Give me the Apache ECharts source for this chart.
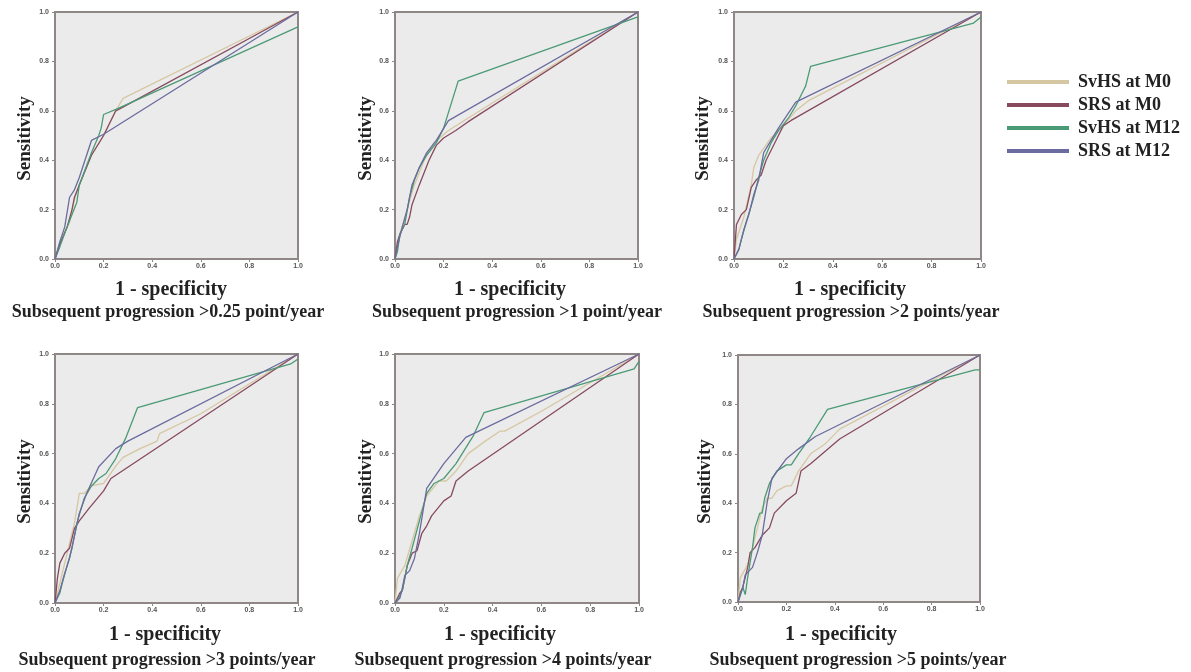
<!DOCTYPE html>
<html>
<head>
<meta charset="utf-8">
<script src="https://cdn.jsdelivr.net/npm/echarts@6/dist/echarts.min.js"></script>
<style>
    html, body {margin: 0; padding: 0; background: #ffffff;}
    #roc-panels {width: 1191px; height: 672px;}
</style>
</head>
<body>
<div id="roc-panels"></div>
<script>
// series names (legend)
const seriesNames = ['SvHS at M0', 'SRS at M0', 'SvHS at M12', 'SRS at M12'];
const seriesColors = ['#d6c7a3', '#874a5e', '#4b9a76', '#6b6b9f'];

// panel titles
const panelTitles = [
    'Subsequent progression >0.25 point/year',
    'Subsequent progression >1 point/year',
    'Subsequent progression >2 points/year',
    'Subsequent progression >3 points/year',
    'Subsequent progression >4 points/year',
    'Subsequent progression >5 points/year'
];

// axis ticks
const axisTicks = [0, 0.2, 0.4, 0.6, 0.8, 1.0];

// ROC points [1 - specificity, sensitivity]
// >0.25 point/year
const p1SvhsM0 = [[0, 0], [0.02, 0.06], [0.04, 0.11], [0.06, 0.15], [0.08, 0.24], [0.1, 0.3], [0.15, 0.42], [0.2, 0.5], [0.25, 0.6], [0.28, 0.65], [1, 1]];
const p1SrsM0 = [[0, 0], [0.02, 0.06], [0.05, 0.13], [0.07, 0.2], [0.08, 0.25], [0.1, 0.3], [0.15, 0.42], [0.2, 0.5], [0.25, 0.6], [0.27, 0.61], [1, 1]];
const p1SvhsM12 = [[0, 0], [0.02, 0.05], [0.05, 0.13], [0.07, 0.18], [0.09, 0.23], [0.1, 0.3], [0.15, 0.43], [0.18, 0.5], [0.19, 0.53], [0.2, 0.585], [0.26, 0.61], [1, 0.94]];
const p1SrsM12 = [[0, 0], [0.02, 0.07], [0.04, 0.13], [0.06, 0.25], [0.08, 0.28], [0.1, 0.33], [0.15, 0.48], [0.2, 0.505], [1, 1]];
// >1 point/year
const p2SvhsM0 = [[0, 0], [0.02, 0.1], [0.05, 0.2], [0.08, 0.3], [0.12, 0.4], [0.16, 0.47], [0.22, 0.52], [0.3, 0.57], [1, 1]];
const p2SrsM0 = [[0, 0], [0.01, 0.07], [0.02, 0.1], [0.04, 0.14], [0.05, 0.14], [0.06, 0.17], [0.07, 0.22], [0.1, 0.3], [0.14, 0.4], [0.17, 0.46], [0.2, 0.49], [0.25, 0.52], [0.3, 0.555], [1, 1]];
const p2SvhsM12 = [[0, 0], [0.01, 0.03], [0.02, 0.1], [0.04, 0.14], [0.06, 0.25], [0.08, 0.32], [0.1, 0.37], [0.13, 0.42], [0.17, 0.47], [0.2, 0.53], [0.26, 0.72], [1, 0.98]];
const p2SrsM12 = [[0, 0], [0.01, 0.05], [0.03, 0.13], [0.05, 0.2], [0.07, 0.3], [0.1, 0.37], [0.13, 0.43], [0.17, 0.48], [0.22, 0.56], [1, 1]];
// >2 points/year
const p3SvhsM0 = [[0, 0], [0.01, 0.08], [0.04, 0.17], [0.07, 0.3], [0.08, 0.37], [0.1, 0.42], [0.15, 0.49], [0.2, 0.54], [0.25, 0.6], [0.3, 0.64], [1, 1]];
const p3SrsM0 = [[0, 0], [0.01, 0.14], [0.03, 0.18], [0.05, 0.2], [0.07, 0.29], [0.09, 0.32], [0.11, 0.34], [0.13, 0.4], [0.18, 0.5], [0.2, 0.54], [0.23, 0.56], [1, 1]];
const p3SvhsM12 = [[0, 0], [0.02, 0.04], [0.03, 0.08], [0.05, 0.15], [0.08, 0.25], [0.1, 0.33], [0.12, 0.4], [0.15, 0.47], [0.18, 0.52], [0.22, 0.57], [0.25, 0.62], [0.28, 0.68], [0.29, 0.7], [0.31, 0.78], [0.97, 0.955], [1, 0.98]];
const p3SrsM12 = [[0, 0], [0.02, 0.04], [0.04, 0.12], [0.06, 0.18], [0.08, 0.26], [0.1, 0.32], [0.12, 0.43], [0.15, 0.48], [0.18, 0.53], [0.2, 0.56], [0.25, 0.635], [1, 1]];
// >3 points/year
const p4SvhsM0 = [[0, 0], [0.02, 0.08], [0.05, 0.2], [0.08, 0.32], [0.1, 0.44], [0.12, 0.44], [0.15, 0.47], [0.2, 0.48], [0.25, 0.55], [0.28, 0.585], [0.35, 0.62], [0.42, 0.65], [0.43, 0.68], [0.6, 0.76], [1, 1]];
const p4SrsM0 = [[0, 0], [0.01, 0.1], [0.02, 0.16], [0.04, 0.2], [0.06, 0.22], [0.08, 0.3], [0.1, 0.33], [0.14, 0.38], [0.2, 0.45], [0.23, 0.5], [1, 1]];
const p4SvhsM12 = [[0, 0], [0.02, 0.04], [0.03, 0.08], [0.05, 0.15], [0.07, 0.22], [0.09, 0.32], [0.12, 0.42], [0.15, 0.47], [0.18, 0.5], [0.21, 0.52], [0.25, 0.58], [0.29, 0.66], [0.34, 0.785], [0.97, 0.96], [1, 0.98]];
const p4SrsM12 = [[0, 0], [0.02, 0.05], [0.04, 0.12], [0.06, 0.18], [0.08, 0.27], [0.1, 0.36], [0.13, 0.44], [0.18, 0.547], [0.25, 0.62], [0.3, 0.65], [1, 1]];
// >4 points/year
const p5SvhsM0 = [[0, 0], [0.01, 0.1], [0.04, 0.15], [0.07, 0.25], [0.1, 0.35], [0.13, 0.43], [0.18, 0.49], [0.21, 0.49], [0.25, 0.53], [0.3, 0.6], [0.37, 0.65], [0.43, 0.69], [0.45, 0.69], [0.6, 0.77], [1, 1]];
const p5SrsM0 = [[0, 0], [0.02, 0.04], [0.03, 0.05], [0.05, 0.15], [0.07, 0.2], [0.09, 0.21], [0.11, 0.28], [0.13, 0.31], [0.15, 0.35], [0.2, 0.41], [0.23, 0.43], [0.25, 0.49], [0.3, 0.53], [1, 1]];
const p5SvhsM12 = [[0, 0], [0.01, 0.01], [0.03, 0.05], [0.05, 0.15], [0.07, 0.22], [0.1, 0.33], [0.13, 0.44], [0.16, 0.48], [0.2, 0.5], [0.25, 0.56], [0.32, 0.67], [0.365, 0.765], [0.98, 0.94], [1, 0.97]];
const p5SrsM12 = [[0, 0], [0.02, 0.02], [0.03, 0.06], [0.04, 0.11], [0.06, 0.13], [0.08, 0.18], [0.1, 0.28], [0.13, 0.46], [0.2, 0.56], [0.29, 0.665], [1, 1]];
// >5 points/year
const p6SvhsM0 = [[0, 0], [0.01, 0.1], [0.04, 0.15], [0.06, 0.22], [0.08, 0.3], [0.1, 0.38], [0.12, 0.42], [0.14, 0.42], [0.16, 0.45], [0.2, 0.47], [0.22, 0.47], [0.25, 0.53], [0.3, 0.6], [0.36, 0.64], [0.42, 0.7], [1, 1]];
const p6SrsM0 = [[0, 0], [0.01, 0.04], [0.02, 0.06], [0.04, 0.14], [0.05, 0.2], [0.07, 0.22], [0.1, 0.27], [0.13, 0.3], [0.15, 0.36], [0.2, 0.41], [0.24, 0.44], [0.26, 0.53], [0.3, 0.56], [0.42, 0.66], [1, 1]];
const p6SvhsM12 = [[0, 0], [0.01, 0.03], [0.02, 0.06], [0.03, 0.03], [0.04, 0.1], [0.06, 0.22], [0.07, 0.3], [0.09, 0.36], [0.1, 0.36], [0.11, 0.42], [0.13, 0.48], [0.16, 0.53], [0.2, 0.555], [0.22, 0.555], [0.25, 0.6], [0.3, 0.67], [0.37, 0.78], [0.98, 0.94], [1, 0.94]];
const p6SrsM12 = [[0, 0], [0.02, 0.06], [0.03, 0.11], [0.06, 0.14], [0.08, 0.2], [0.1, 0.27], [0.12, 0.4], [0.14, 0.5], [0.2, 0.58], [0.25, 0.62], [0.32, 0.67], [1, 1]];

const panelData = [
    [p1SvhsM0, p1SrsM0, p1SvhsM12, p1SrsM12],
    [p2SvhsM0, p2SrsM0, p2SvhsM12, p2SrsM12],
    [p3SvhsM0, p3SrsM0, p3SvhsM12, p3SrsM12],
    [p4SvhsM0, p4SrsM0, p4SvhsM12, p4SrsM12],
    [p5SvhsM0, p5SrsM0, p5SvhsM12, p5SrsM12],
    [p6SvhsM0, p6SrsM0, p6SvhsM12, p6SrsM12]
];

// layout of the six plot boxes
const grids = [
    {left: 55, top: 12, width: 243, height: 247},
    {left: 395, top: 12, width: 243, height: 247},
    {left: 734, top: 12, width: 247, height: 247},
    {left: 55, top: 354, width: 243, height: 249},
    {left: 395, top: 354, width: 244, height: 249},
    {left: 738, top: 355, width: 242, height: 247}
];
const specX = [171, 510, 850, 165, 500, 841];
const subX = [168, 517, 851, 167, 503, 858];
const sensX = [25, 366, 703, 25, 366, 705];

const serif = '"Liberation Serif", "Times New Roman", serif';
const borderColor = '#8f8686';

function axisBase(gridIndex) {
    return {
        type: 'value',
        gridIndex: gridIndex,
        min: 0,
        max: 1,
        interval: 0.2,
        axisLine: {show: true, lineStyle: {color: borderColor, width: 2}},
        axisTick: {show: true, length: 3, lineStyle: {color: borderColor, width: 1}},
        splitLine: {show: false},
        axisLabel: {
            fontSize: 7,
            fontWeight: 'bold',
            color: '#555555',
            fontFamily: '"Liberation Sans", Arial, sans-serif',
            formatter: (v) => v.toFixed(1)
        }
    };
}

let xAxis = [];
let yAxis = [];
let series = [];
let graphic = [];

grids.forEach((g, i) => {
    let xa = axisBase(i);
    xa.axisLabel.margin = 4;
    xa.axisLabel.customValues = axisTicks;
    xAxis.push(xa);
    let ya = axisBase(i);
    ya.axisLabel.margin = 6;
    yAxis.push(ya);

    panelData[i].forEach((points, k) => {
        series.push({
            name: seriesNames[k],
            type: 'line',
            xAxisIndex: i,
            yAxisIndex: i,
            data: points,
            showSymbol: false,
            silent: true,
            z: 2 + k,
            itemStyle: {color: seriesColors[k]},
            lineStyle: {color: seriesColors[k], width: 1.3}
        });
    });

    let lowerRow = i >= 3;
    graphic.push({
        type: 'text',
        x: specX[i],
        y: lowerRow ? 635 : 290,
        style: {
            text: '1 - specificity',
            font: 'bold 20px ' + serif,
            fill: '#222222',
            textAlign: 'center',
            verticalAlign: 'middle'
        }
    });
    graphic.push({
        type: 'text',
        x: subX[i],
        y: lowerRow ? 660 : 312,
        style: {
            text: panelTitles[i],
            font: 'bold 18px ' + serif,
            fill: '#222222',
            textAlign: 'center',
            verticalAlign: 'middle'
        }
    });
    graphic.push({
        type: 'text',
        x: sensX[i],
        y: g.top + g.height / 2 + 3,
        rotation: Math.PI / 2,
        style: {
            text: 'Sensitivity',
            font: 'bold 19px ' + serif,
            fill: '#222222',
            textAlign: 'center',
            verticalAlign: 'middle'
        }
    });
});

let option = {
    animation: false,
    backgroundColor: '#ffffff',
    grid: grids.map((g) => Object.assign({
        show: true,
        backgroundColor: '#ebebeb',
        borderColor: borderColor,
        borderWidth: 2,
        containLabel: false
    }, g)),
    legend: {
        orient: 'vertical',
        left: 1007,
        top: 73,
        padding: 0,
        icon: 'rect',
        itemWidth: 62,
        itemHeight: 4,
        itemGap: 5,
        data: seriesNames,
        textStyle: {
            fontFamily: serif,
            fontWeight: 'bold',
            fontSize: 18,
            lineHeight: 18,
            color: '#222222',
            padding: [0, 0, 0, 4]
        }
    },
    xAxis: xAxis,
    yAxis: yAxis,
    series: series,
    graphic: graphic
};

let chart = echarts.init(document.getElementById('roc-panels'));
chart.setOption(option);
</script>
</body>
</html>
